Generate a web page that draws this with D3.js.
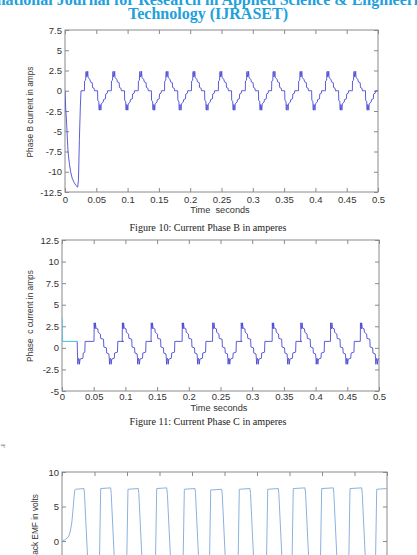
<!DOCTYPE html>
<html>
<head>
<meta charset="utf-8">
<script src="https://cdn.jsdelivr.net/npm/d3@7"></script>
<style>
    html, body { margin: 0; padding: 0; background: #fff; overflow: hidden; }
    .tick text { font-family: "Liberation Sans", Arial, sans-serif; font-size: 9.5px; fill: #333; }
    .tick line { stroke: #8a8a8a; }
    .frame { fill: none; stroke: #8a8a8a; stroke-width: 1; }
    .axis-label { font-family: "Liberation Sans", Arial, sans-serif; fill: #333; white-space: pre; }
    .caption { font-family: "Liberation Serif", "Times New Roman", serif; font-size: 11px; fill: #222; }
    .header { font-family: "Liberation Serif", "Times New Roman", serif; font-weight: bold; font-size: 16px; fill: #21a0dc; }
</style>
</head>
<body>
<div id="page"></div>
<script>

    // shared time axis
    var xTicks = [0, 0.05, 0.1, 0.15, 0.2, 0.25, 0.3, 0.35, 0.4, 0.45, 0.5];

    // Figure 10 - phase B current
    var bTicks = [-12.5, -10, -7.5, -5, -2.5, 0, 2.5, 5, 7.5];
    var bStartup = [[0, 0], [0.001, -2], [0.0027, -4.2], [0.0048, -7.5], [0.007, -9], [0.009, -10],
        [0.0115, -10.8], [0.0144, -11.3], [0.0175, -11.7], [0.0203, -11.9], [0.0215, -11], [0.023, -6],
        [0.0245, -2], [0.0256, 0], [0.031, 0]];
    // one cycle (offset from the rising edge, amps)
    var bCycle = [[0, 0], [0.0003, 1.2], [0.002, 1.3], [0.0023, 2.3], [0.003, 2.4], [0.0036, 1.7],
        [0.0048, 1.9], [0.0053, 2.4], [0.006, 1.6], [0.009, 1.4], [0.0095, 1.1], [0.0125, 1.0],
        [0.013, 0.4], [0.0155, 0.3], [0.016, 0], [0.021, 0], [0.0213, -1.2], [0.023, -1.3],
        [0.0233, -2.3], [0.024, -2.4], [0.0246, -1.7], [0.0258, -1.9], [0.0263, -2.4], [0.027, -1.6],
        [0.03, -1.4], [0.0305, -1.1], [0.0335, -1.0], [0.034, -0.4], [0.0365, -0.3], [0.037, 0], [0.042, 0]];
    var bCycleStarts = [0.031, 0.074, 0.117, 0.159, 0.202, 0.245, 0.288, 0.330, 0.373, 0.416, 0.459];

    // Figure 11 - phase C current
    var cTicks = [-5, -2.5, 0, 2.5, 5, 7.5, 10, 12.5];
    var cInitial = [[0, 3.5], [0.0004, 0.75], [0.024, 0.75]];
    var cStartup = [[0.024, 0.75], [0.0245, -1.2], [0.025, -1.9], [0.026, -1.2], [0.027, -1.3],
        [0.0275, -1.9], [0.0285, -1.3], [0.033, -1.2], [0.0335, -0.6], [0.036, -0.5], [0.0365, 0.75],
        [0.0498, 0.75]];
    var cCycle = [[0, 0.75], [0.0002, 2.9], [0.001, 2.3], [0.0018, 2.2], [0.0022, 2.9], [0.003, 2.3],
        [0.006, 2.2], [0.0065, 1.8], [0.01, 1.6], [0.0105, 1.1], [0.015, 1.0], [0.0155, 0.1],
        [0.0195, 0], [0.02, -0.6], [0.0235, -0.7], [0.024, -1.2], [0.0245, -1.9], [0.0255, -1.2],
        [0.0265, -1.3], [0.027, -1.9], [0.028, -1.3], [0.032, -1.2], [0.0325, -0.6], [0.037, -0.5],
        [0.0375, 0.75], [0.0467, 0.75]];
    var cCycleStarts = [0.0505, 0.095, 0.1405, 0.1895, 0.2375, 0.2825, 0.3315, 0.3765, 0.4235, 0.4705];

    // back EMF (only the upper part is on the page)
    var emfTicks = [-10, -5, 0, 5, 10];
    var emfPoints = [[0, 0], [0.005, 0.2], [0.01, 0.6], [0.0125, 1.3], [0.015, 2.6], [0.017, 4.6],
        [0.0185, 6.3], [0.0195, 7.4], [0.021, 7.5], [0.0338, 7.6], [0.0346, 6.8], [0.042, -7.5],
        [0.0568, -7.5], [0.0595, 7.6], [0.0749, 7.7], [0.0757, 6.9], [0.083, -7.5],
        [0.0988, -7.5], [0.1015, 7.5], [0.1174, 7.6], [0.1182, 6.9], [0.1255, -7.5],
        [0.143, -7.5], [0.1457, 7.6], [0.1611, 7.7], [0.1622, 6.7], [0.1695, -7.5],
        [0.1855, -7.5], [0.1882, 7.5], [0.2046, 7.6], [0.2054, 6.9], [0.2127, -7.5],
        [0.2261, -7.5], [0.2288, 7.4], [0.2457, 7.5], [0.2465, 6.8], [0.2538, -7.5],
        [0.2701, -7.5], [0.2728, 7.5], [0.2892, 7.6], [0.29, 6.9], [0.2973, -7.5],
        [0.3138, -7.5], [0.3165, 7.5], [0.3328, 7.6], [0.3336, 6.9], [0.3409, -7.5],
        [0.3531, -7.5], [0.3558, 7.6], [0.3738, 7.7], [0.3748, 6.8], [0.382, -7.5],
        [0.3968, -7.5], [0.3995, 7.6], [0.4174, 7.7], [0.4182, 6.9], [0.4255, -7.5],
        [0.4404, -7.5], [0.4431, 7.6], [0.4611, 7.7], [0.4619, 6.9], [0.4692, -7.5],
        [0.4815, -7.5], [0.4842, 7.5], [0.5, 7.6]];

    function repeatCycle(prefix, starts, cycle) {
        var pts = prefix.slice();
        starts.forEach(function (s) {
            cycle.forEach(function (p) { pts.push([s + p[0], p[1]]); });
        });
        return pts;
    }

    var svg = d3.select("#page").append("svg")
        .attr("width", 417).attr("height", 555)
        .style("display", "block");

    // journal header, cut off by the top of the page
    svg.append("text").attr("class", "header")
        .attr("x", -38).attr("y", 5)
        .text("International Journal for Research in Applied Science & Engineering");
    svg.append("text").attr("class", "header")
        .attr("x", 208).attr("y", 19).attr("text-anchor", "middle")
        .attr("textLength", 160).attr("lengthAdjust", "spacingAndGlyphs")
        .text("Technology (IJRASET)");

    var clipId = 0;

    function drawPlot(opt) {
        var x = d3.scaleLinear().domain([0, 0.5]).range([opt.left, opt.right]);
        var y = d3.scaleLinear().domain(opt.yDomain).range([opt.bottom, opt.top]);
        var g = svg.append("g");
        var fmt = function (d) { return String(d); };

        g.append("g").attr("transform", "translate(0," + opt.bottom + ")")
            .call(d3.axisBottom(x).tickValues(xTicks).tickFormat(fmt).tickSize(-4).tickPadding(opt.xPad))
            .call(function (a) { a.select(".domain").remove(); });
        g.append("g").attr("transform", "translate(0," + opt.top + ")")
            .call(d3.axisTop(x).tickValues(xTicks).tickFormat("").tickSize(-4))
            .call(function (a) { a.select(".domain").remove(); });
        g.append("g").attr("transform", "translate(" + opt.left + ",0)")
            .call(d3.axisLeft(y).tickValues(opt.yTicks).tickFormat(fmt).tickSize(-4).tickPadding(3))
            .call(function (a) { a.select(".domain").remove(); });
        g.append("g").attr("transform", "translate(" + opt.right + ",0)")
            .call(d3.axisRight(y).tickValues(opt.yTicks).tickFormat("").tickSize(-4))
            .call(function (a) { a.select(".domain").remove(); });
        g.selectAll(".tick text").attr("font-size", null).attr("font-family", null);

        g.append("rect").attr("class", "frame")
            .attr("x", opt.left).attr("y", opt.top)
            .attr("width", opt.right - opt.left).attr("height", opt.bottom - opt.top);

        var id = "clip" + (clipId++);
        g.append("clipPath").attr("id", id).append("rect")
            .attr("x", opt.left).attr("y", opt.top)
            .attr("width", opt.right - opt.left).attr("height", opt.bottom - opt.top);

        var line = d3.line().x(function (d) { return x(d[0]); }).y(function (d) { return y(d[1]); });
        opt.series.forEach(function (s) {
            g.append("path").datum(s.data)
                .attr("clip-path", "url(#" + id + ")")
                .attr("fill", "none")
                .attr("stroke", s.color)
                .attr("stroke-width", s.width || 1)
                .attr("stroke-linejoin", "round")
                .attr("d", line);
        });

        // axis titles
        if (opt.xLabel) {
            g.append("text").attr("class", "axis-label")
                .attr("x", opt.xLabel.x).attr("y", opt.xLabel.y)
                .attr("text-anchor", "middle").attr("font-size", 9.2)
                .text(opt.xLabel.text);
        }
        g.append("text").attr("class", "axis-label")
            .attr("transform", "translate(" + opt.yLabel.x + "," + opt.yLabel.y + ") rotate(-90)")
            .attr("text-anchor", opt.yLabel.anchor).attr("font-size", 8.3)
            .text(opt.yLabel.text);
        return g;
    }

    drawPlot({
        left: 65, right: 378, top: 30, bottom: 192, xPad: 4,
        yDomain: [-12.5, 7.5], yTicks: bTicks,
        series: [{ data: repeatCycle(bStartup, bCycleStarts, bCycle), color: "#4a4ad2", width: 0.9 }],
        xLabel: { text: "Time  seconds", x: 220, y: 213 },
        yLabel: { text: "Phase B current in amps", x: 33, y: 112, anchor: "middle" }
    });

    svg.append("text").attr("class", "caption")
        .attr("x", 208).attr("y", 231).attr("text-anchor", "middle")
        .attr("textLength", 157).attr("lengthAdjust", "spacingAndGlyphs")
        .text("Figure 10: Current Phase B in amperes");

    drawPlot({
        left: 62, right: 379, top: 240, bottom: 391, xPad: 2,
        yDomain: [-5, 12.5], yTicks: cTicks,
        series: [
            { data: cInitial, color: "#3cc0e6", width: 1 },
            { data: repeatCycle(cStartup, cCycleStarts, cCycle), color: "#4a4ad2", width: 0.9 }
        ],
        xLabel: { text: "Time seconds", x: 219, y: 411 },
        yLabel: { text: "Phase  c current in amps", x: 33, y: 316, anchor: "middle" }
    });

    svg.append("text").attr("class", "caption")
        .attr("x", 208).attr("y", 425).attr("text-anchor", "middle")
        .attr("textLength", 157).attr("lengthAdjust", "spacingAndGlyphs")
        .text("Figure 11: Current Phase C in amperes");

    // stray mark at the left margin
    svg.append("text")
        .attr("transform", "translate(1,444) rotate(90)")
        .attr("font-family", "Liberation Serif, serif").attr("font-size", 7).attr("fill", "#777")
        .text("F");

    drawPlot({
        left: 62, right: 387, top: 472, bottom: 610, xPad: 4,
        yDomain: [-10, 10], yTicks: emfTicks,
        series: [{ data: emfPoints, color: "#8cb2dc", width: 1 }],
        xLabel: null,
        yLabel: { text: "Back EMF in volts", x: 38, y: 494, anchor: "end" }
    });

</script>
</body>
</html>
